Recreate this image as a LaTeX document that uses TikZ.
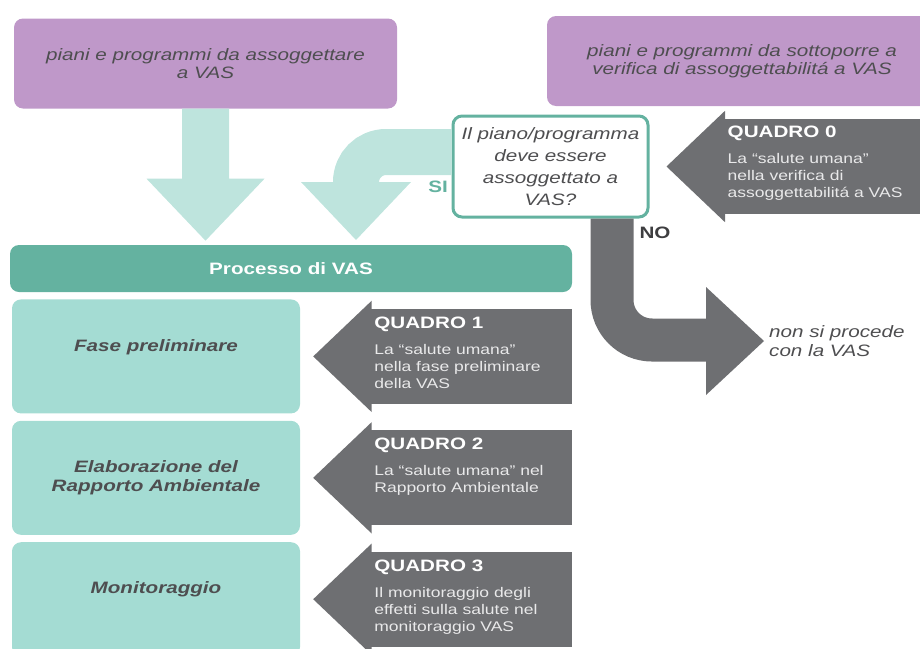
\documentclass[tikz,border=0pt]{standalone}
\usepackage{fontspec}
\setmainfont{Liberation Sans}[FakeStretch=1.25]
\usetikzlibrary{positioning}

\definecolor{lilla}{RGB}{191,152,201}
\definecolor{verdescuro}{RGB}{100,178,160}
\definecolor{verdechiaro}{RGB}{164,220,211}
\definecolor{verdepallido}{RGB}{190,228,221}
\definecolor{grigio}{RGB}{110,111,114}
\definecolor{testo}{RGB}{78,78,80}

\begin{document}
\begin{tikzpicture}[x=1pt,y=-1pt,
  lillabox/.style={fill=lilla, rounded corners=9pt, minimum width=383pt, minimum height=90pt,
    align=center, text=testo, font=\fontsize{16.5}{18}\selectfont\itshape},
  fasebox/.style={fill=verdechiaro, rounded corners=9pt, minimum width=288pt, minimum height=114pt,
    align=center, text=testo, font=\fontsize{16.5}{18.5}\selectfont\bfseries\itshape},
  quadrobox/.style={fill=grigio, minimum width=202pt, minimum height=95pt, inner sep=0pt},
  quadrotesto/.style={anchor=north west, inner sep=0pt, align=left, text=white!85!grigio,
    font=\fontsize{14}{17}\selectfont}]
\useasboundingbox (0,0) rectangle (920,648);

\node[lillabox] (assogg) at (205.5,63.5) {piani e programmi da assoggettare\\a VAS};
\node[lillabox, minimum width=390pt] (verifica) at (742,61) {piani e programmi da sottoporre a\\verifica di assoggettabilitá a VAS};

\node[draw=verdescuro, line width=3pt, fill=white, rounded corners=9pt, minimum width=195pt,
  minimum height=101pt, align=center, text=testo, font=\fontsize{16.5}{22}\selectfont\itshape]
  (domanda) at (550.5,166.5) {Il piano/programma\\deve essere\\assoggettato a\\VAS?};

\node[fill=verdescuro, rounded corners=9pt, minimum width=562pt, minimum height=47pt, text=white,
  font=\fontsize{16.5}{18}\selectfont\bfseries] (processo) at (291,268.5) {Processo di VAS};

\node[fasebox, text depth=22pt, anchor=north west] (fase) at ([xshift=2pt,yshift=-7pt]processo.south west) {Fase preliminare};
\node[fasebox, below=7pt of fase] (elab) {Elaborazione del\\Rapporto Ambientale};
\node[fasebox, text depth=24pt, below=7pt of elab] (monit) {Monitoraggio};

\node[anchor=west, align=left, inner xsep=5pt, text=testo, font=\fontsize{16.5}{19}\selectfont\itshape]
  (nonvas) at (764,341) {non si procede\\con la VAS};
\node[anchor=east, text=verdescuro, font=\fontsize{16.5}{18}\selectfont\bfseries] (si)
  at ([yshift=-20pt]domanda.west) {SI};
\node[anchor=west, text=testo!80!black, font=\fontsize{16.5}{18}\selectfont\bfseries] (no)
  at (636,233) {NO};

% frecce verdi
\fill[verdepallido] (assogg.south) ++(-23.5,0) -- ++(0,70) -- ++(-35.5,0) -- ++(59,62)
  -- ++(59,-62) -- ++(-35.5,0) -- ++(0,-70) -- cycle;
\coordinate (curvasi) at (356,152);
\draw[verdepallido, line width=46pt, rounded corners=30pt] (domanda.west |- curvasi) -- (curvasi) -- ++(0,38);
\fill[verdepallido] (curvasi) ++(-55,30) -- ++(110,0) -- ++(-55,58) -- cycle;

% freccia NO
\coordinate (curvano) at (612,340);
\draw[grigio, line width=43pt, rounded corners=40pt] (domanda.south -| curvano) -- (curvano) -- ++(100,0);
\fill[grigio] (nonvas.west) -- ++(-58,-54) -- ++(0,108) -- cycle;

% quadri
\node[quadrobox, minimum width=210pt, right=74pt of domanda] (q0) {};
\node[quadrobox, right=70pt of fase] (q1) {};
\node[quadrobox, right=70pt of elab] (q2) {};
\node[quadrobox, right=70pt of monit] (q3) {};
\foreach \q in {q0,q1,q2,q3}
  \fill[grigio] ([xshift=1.5pt,yshift=8pt]\q.north west) -- ([xshift=-57pt]\q.west)
    -- ([xshift=1.5pt,yshift=-8pt]\q.south west) -- cycle;

\node[quadrotesto] (q0testo) at ([xshift=4pt,yshift=-7pt]q0.north west)
  {{\fontsize{16.5}{18}\selectfont\bfseries\color{white}QUADRO 0}\\[9pt]La “salute umana”\\nella verifica di\\assoggettabilitá a VAS};
\node[quadrotesto] (q1testo) at ([xshift=4pt,yshift=-8pt]q1.north west)
  {{\fontsize{16.5}{18}\selectfont\bfseries\color{white}QUADRO 1}\\[9pt]La “salute umana”\\nella fase preliminare\\della VAS};
\node[quadrotesto] (q2testo) at ([xshift=4pt,yshift=-8pt]q2.north west)
  {{\fontsize{16.5}{18}\selectfont\bfseries\color{white}QUADRO 2}\\[9pt]La “salute umana” nel\\Rapporto Ambientale};
\node[quadrotesto] (q3testo) at ([xshift=4pt,yshift=-8pt]q3.north west)
  {{\fontsize{16.5}{18}\selectfont\bfseries\color{white}QUADRO 3}\\[9pt]Il monitoraggio degli\\effetti sulla salute nel\\monitoraggio VAS};
\end{tikzpicture}
\end{document}
